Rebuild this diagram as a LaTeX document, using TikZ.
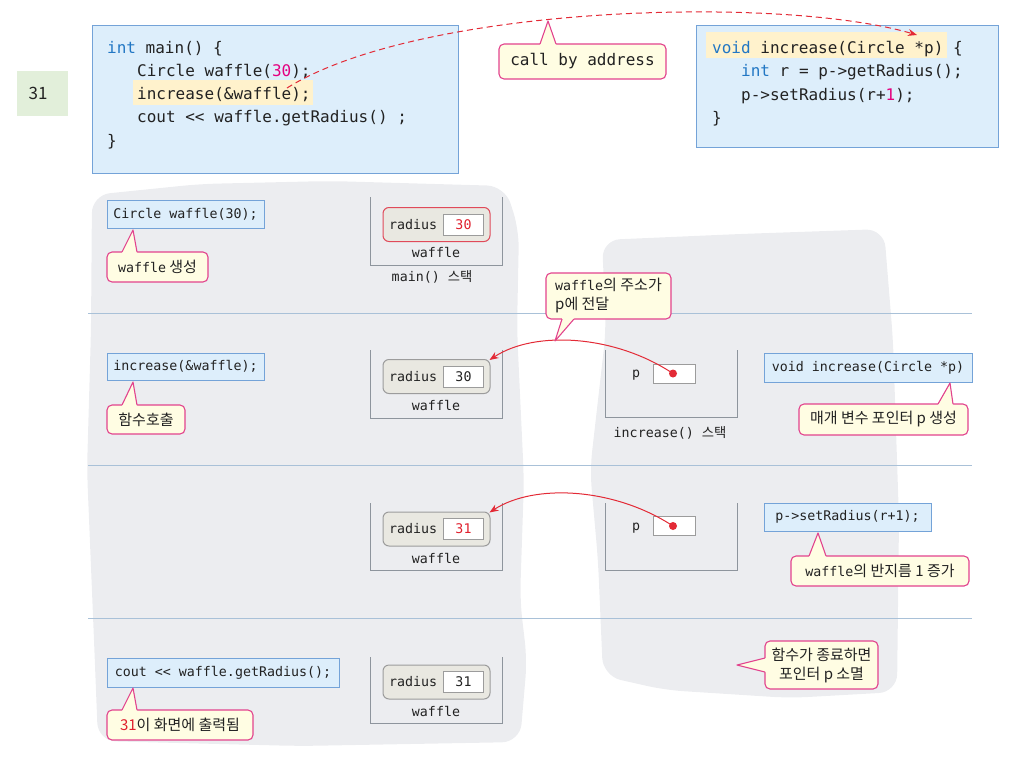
\documentclass[tikz,border=0pt]{standalone}
\usepackage{fontspec}
\setmonofont{DejaVu Sans Mono}
\newfontfamily\hangulfont{Noto Sans CJK KR}
\usetikzlibrary{arrows.meta,calc}
\definecolor{codefill}{HTML}{DDEEFB}
\definecolor{codeline}{HTML}{74A3D8}
\definecolor{hl}{HTML}{FFF2CC}
\definecolor{kwblue}{HTML}{2277C4}
\definecolor{numpink}{HTML}{E4007F}
\definecolor{callfill}{HTML}{FFFDE3}
\definecolor{callline}{HTML}{E2438D}
\definecolor{blobgray}{HTML}{ECEDF0}
\definecolor{sepcol}{HTML}{A9C1D8}
\definecolor{framecol}{HTML}{8E959D}
\definecolor{radfill}{HTML}{E9E8E1}
\definecolor{radline}{HTML}{9C9C9C}
\definecolor{redline}{HTML}{E04A5A}
\definecolor{arrowred}{HTML}{E32A36}
\definecolor{valred}{HTML}{E0202E}
\definecolor{greenfill}{HTML}{E2EFDA}
\definecolor{txt}{HTML}{222222}
\newcommand{\bigcode}{\fontsize{16}{19}\selectfont\ttfamily}
\newcommand{\smcode}{\fontsize{13.3}{16}\selectfont\ttfamily}
\newcommand{\krf}{\fontsize{15}{19}\selectfont\hangulfont}
\newcommand{\ctail}[4]{%
  \fill[callfill] ($(#1)+(#4)$) -- (#1) -- (#2) -- (#3) -- ($(#3)+(#4)$) -- cycle;
  \draw[callline, line width=1.1pt, line join=round] (#1) -- (#2) -- (#3);
}
\newcommand{\radrow}[5]{%
  \node[radbox, draw=#5] (#1) at (436.5,#2) {};
  \node[lbl, anchor=west] (#1t) at (389,#2) {radius};
  \node[valbox] (#1v) at (463.5,#2) {\textcolor{#4}{#3}};
}
\begin{document}
\begin{tikzpicture}[x=1pt,y=-1pt,
  codebox/.style={fill=codefill, draw=codeline, line width=0.8pt, inner sep=0pt, text=txt},
  smallcode/.style={codebox, font=\smcode},
  callbox/.style={fill=callfill, draw=callline, line width=1.1pt, rounded corners=5pt, inner sep=0pt, text=txt, font=\krf},
  codetext/.style={anchor=base west, inner sep=0pt, font=\bigcode, text=txt},
  radbox/.style={fill=radfill, line width=1pt, rounded corners=6pt, minimum width=107, minimum height=34, inner sep=0pt},
  valbox/.style={fill=white, draw=radline, line width=0.6pt, minimum width=40, minimum height=21, inner sep=0pt, font=\smcode},
  stackframe/.style={draw=framecol, line width=0.9pt},
  lbl/.style={inner sep=0pt, font=\smcode, text=txt},
  hsep/.style={draw=sepcol, line width=0.8pt},
  redarrow/.style={draw=arrowred, line width=1pt, -{Stealth[length=9pt,width=7pt]}},
  dot/.style={circle, fill=arrowred, inner sep=0pt, minimum size=8}
]
\useasboundingbox (0,0) rectangle (1030,760);

% background blobs
\fill[blobgray, rounded corners=18] (92,195) -- (200,184) -- (330,181) -- (505,186) -- (519,230) -- (517,330) -- (524,480) -- (520,600) -- (527,660) -- (520,742) -- (300,746) -- (98,741) -- (94,640) -- (87,470) -- (91,330) -- cycle;
\fill[blobgray, rounded corners=18] (602,240) -- (740,234) -- (884,229) -- (893,340) -- (899,520) -- (897,692) -- (790,698) -- (665,690) -- (603,676) -- (598,560) -- (590,470) -- (606,330) -- cycle;

% separators
\draw[hsep] (88,313) -- (972,313);
\draw[hsep] (88,465) -- (972,465);
\draw[hsep] (88,618) -- (972,618);

% number box
\node[fill=greenfill, minimum width=51, minimum height=45, inner sep=0pt] (gbox) at (42.5,93.5) {};
\node[inner sep=0pt, font=\fontsize{17}{19}\selectfont\hangulfont, text=txt] (gnum) at (38,93.5) {31};

% main code box
\node[codebox, minimum width=366, minimum height=148, anchor=north west] (mainbox) at (92,25) {};
\fill[hl] (133,80) rectangle (313,105);
\node[codetext] (m1) at (107,53) {\textcolor{kwblue}{int} main() \{};
\node[codetext] (m2) at (137,76) {Circle waffle(\textcolor{numpink}{30});};
\node[codetext] (m3) at (137,99) {increase(\&waffle);};
\node[codetext] (m4) at (137,122) {cout << waffle.getRadius() ;};
\node[codetext] (m5) at (107,146) {\}};

% function code box
\node[codebox, minimum width=302, minimum height=122, anchor=north west] (funcbox) at (696,25) {};
\fill[hl] (706,32) rectangle (947,58);
\node[codetext] (f1) at (712,53) {\textcolor{kwblue}{void} increase(Circle *p) \{};
\node[codetext] (f2) at (741,77) {\textcolor{kwblue}{int} r = p->getRadius();};
\node[codetext] (f3) at (741,100) {p->setRadius(r+\textcolor{numpink}{1});};
\node[codetext] (f4) at (712,123) {\}};

% call by address
\coordinate (callsrc) at (287,88);
\coordinate (calldst) at (917,35);
\node[callbox, font=\bigcode, minimum width=167, minimum height=35] (cba) at (582.5,61.5) {call by address};
\ctail{540,44}{548,21}{556,44}{0,2}

% row 1
\node[smallcode, minimum width=157, minimum height=28] (b1) at (185.5,214) {Circle waffle(30);};
\node[callbox, minimum width=101, minimum height=30] (c1) at (157.5,267) {{\smcode waffle} 생성};
\ctail{122,252}{133,230}{137,252}{0,2}
\draw[stackframe] (370,197) -- (370,265) -- (502,265) -- (502,197);
\radrow{rad1}{224.5}{30}{valred}{redline}
\node[lbl] (w1) at (436,253) {waffle};
\node[lbl] (ms) at (432,277) {main() {\hangulfont 스택}};

% row 2
\node[smallcode, minimum width=157, minimum height=27] (b2) at (185.5,366.5) {increase(\&waffle);};
\node[callbox, minimum width=78, minimum height=29] (c2) at (146,419.5) {함수호출};
\ctail{122,405}{133,382}{137,405}{0,2}
\draw[stackframe] (370,350) -- (370,418) -- (502,418) -- (502,350);
\radrow{rad2}{376.5}{30}{txt}{radline}
\node[lbl] (w2) at (436,406) {waffle};
\draw[stackframe] (605,350) -- (605,417) -- (737,417) -- (737,350);
\node[lbl] (p1) at (636,375) {p};
\node[fill=white, draw=radline, line width=0.6pt, minimum width=42, minimum height=19, inner sep=0pt] (pb1) at (674,373.5) {};
\node[dot] (dot1) at (673,373.5) {};
\node[lbl] (is) at (670,433) {increase() {\hangulfont 스택}};
\node[smallcode, minimum width=208, minimum height=29] (b3) at (868,367.5) {void increase(Circle *p)};
\node[callbox, minimum width=169, minimum height=31] (c4) at (883.5,419.5) {매개 변수 포인터 p 생성};
\ctail{938,404}{950,383}{953,404}{0,2}
\draw[redarrow] (dot1.center) .. controls (615,335) and (535,330) .. ($(rad2.north east)+(-1,1)$);
\node[callbox, minimum width=125, minimum height=46, align=left] (c3) at (608.5,296) {{\smcode waffle}의 주소가\\p에 전달};
\ctail{562,319}{555,341}{574,319}{0,-2}

% row 3
\draw[stackframe] (370,503) -- (370,570) -- (502,570) -- (502,503);
\radrow{rad3}{529}{31}{valred}{radline}
\node[lbl] (w3) at (436,558) {waffle};
\draw[stackframe] (605,503) -- (605,570) -- (737,570) -- (737,503);
\node[lbl] (p2) at (636,528) {p};
\node[fill=white, draw=radline, line width=0.6pt, minimum width=42, minimum height=19, inner sep=0pt] (pb2) at (674,526) {};
\node[dot] (dot2) at (673,526) {};
\draw[redarrow] (dot2.center) .. controls (615,488) and (535,483) .. ($(rad3.north east)+(-1,1)$);
\node[smallcode, minimum width=167, minimum height=28] (b4) at (847.5,517) {p->setRadius(r+1);};
\node[callbox, minimum width=178, minimum height=30] (c5) at (880,571) {{\smcode waffle}의 반지름 1 증가};
\ctail{809,556}{818,533}{826,556}{0,2}

% row 4
\node[smallcode, minimum width=232, minimum height=29] (b5) at (223,672.5) {cout << waffle.getRadius();};
\node[callbox, minimum width=146, minimum height=30] (c6) at (180,725) {\textcolor{valred}{31}이 화면에 출력됨};
\ctail{122,710}{133,688}{137,710}{0,2}
\draw[stackframe] (370,657) -- (370,723) -- (502,723) -- (502,657);
\radrow{rad4}{682}{31}{txt}{radline}
\node[lbl] (w4) at (436,711) {waffle};
\node[callbox, minimum width=113, minimum height=48, align=center] (c7) at (821.5,665) {함수가 종료하면\\포인터 p 소멸};
\ctail{765,658}{737,665}{765,672}{2,0}

% dashed call arrow
\draw[redarrow, dash pattern=on 6pt off 4pt] (callsrc) .. controls (420,5) and (780,-5) .. (calldst);
\end{tikzpicture}
\end{document}
